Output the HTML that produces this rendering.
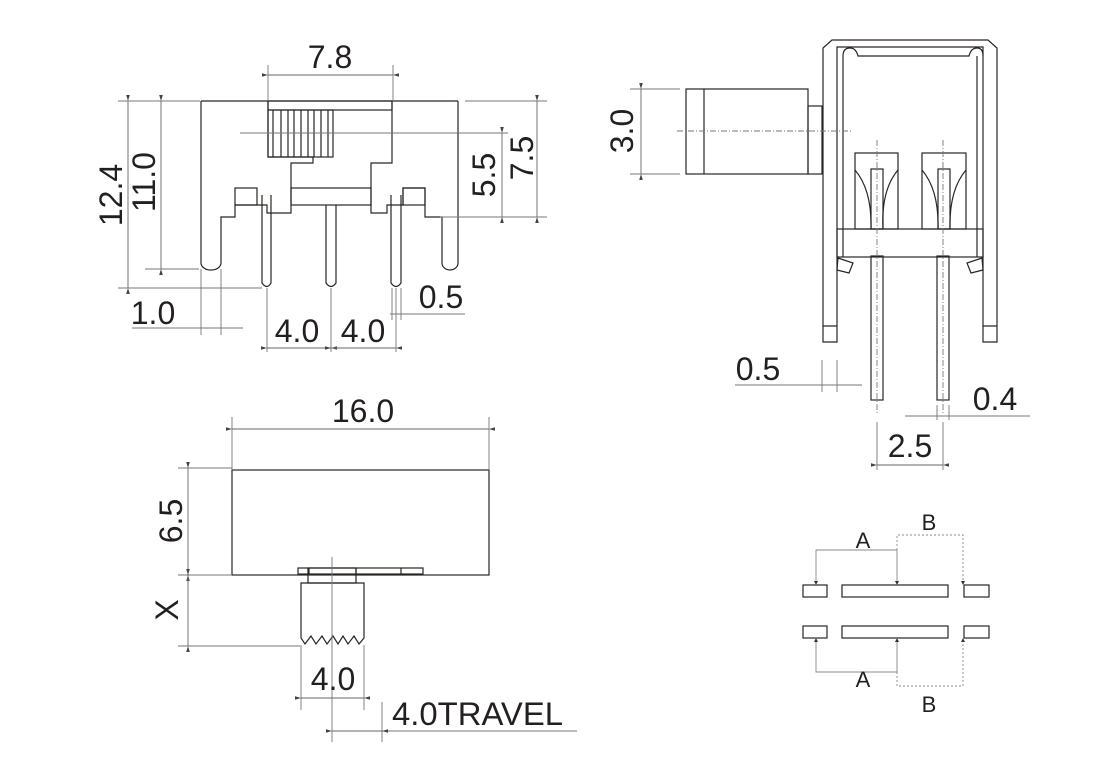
<!DOCTYPE html>
<html><head><meta charset="utf-8"><style>
html,body{margin:0;padding:0;background:#fff;}
svg{display:block;}
text{font-family:"Liberation Sans",sans-serif;fill:#231f20;}
.d{font-size:32px;}
.l{font-size:22px;}
.dim{stroke:#666;stroke-width:0.9;marker-start:url(#a);marker-end:url(#a);}
</style></head><body>
<svg width="1120" height="784" viewBox="0 0 1120 784" xmlns="http://www.w3.org/2000/svg">
<defs>
<marker id="a" viewBox="0 0 10 6" refX="0" refY="3" markerWidth="6" markerHeight="3.6" orient="auto-start-reverse" markerUnits="userSpaceOnUse">
<path d="M10,0 L0,3 L10,6 Z" fill="#444"/>
</marker>
</defs>
<g fill="none" stroke="#2a2424" stroke-width="1.2">
<!-- TOP LEFT VIEW -->
<path d="M201,101 H458"/>
<path d="M201,101 V263 A10,7 0 0 0 221,263 V217 H235 V205 H257 V205 H267 V213 H291 V163 H313 V157 H268 V101"/>
<rect x="235" y="188" width="22" height="17"/>
<path d="M392,101 V163 H371 V213 H387 V205 H403 V188 H425 V205 H425 V217 H442 V263 A8,7 0 0 0 458,263 V101"/>
<rect x="403" y="188" width="22" height="17"/>
<rect x="268" y="101" width="124" height="9"/>
<rect x="268" y="110" width="65" height="47"/>
<path d="M273,110V157M281,110V157M288,110V157M294,110V157M301,110V157M308,110V157M314,110V157M321,110V157M328,110V157"/>
<rect x="291" y="188" width="80" height="17"/>
<path d="M262,195 V283 Q267,290 271,283 V195 M326,205 V283 Q331,290 336,283 V205 M391,195 V283 Q396,290 401,283 V195"/>
</g>
<g fill="none" stroke="#777" stroke-width="0.9">
<path d="M240,133 H508"/>
<path d="M118,101 H200 M118,288 H262 M145,269 H199"/>
<path d="M268,65 V101 M393,65 V101"/>
<path d="M465,101 H547 M440,217 H547"/>
<path d="M201,269 V335 M221,269 V335 M132,328 H243"/>
<path d="M267,288 V352 M331,288 V352 M396,288 V352"/>
<path d="M392,288 V320 M401,288 V320 M390,314 H465"/>
</g>
<line class="dim" x1="128" y1="101" x2="128" y2="288"/>
<line class="dim" x1="161" y1="101" x2="161" y2="269"/>
<line class="dim" x1="268" y1="75" x2="393" y2="75"/>
<line class="dim" x1="537" y1="101" x2="537" y2="217"/>
<line class="dim" x1="502" y1="133" x2="502" y2="217"/>
<line class="dim" x1="267" y1="348" x2="331" y2="348"/>
<line class="dim" x1="331" y1="348" x2="396" y2="348"/>
<text class="d" x="330" y="68" text-anchor="middle">7.8</text>
<text class="d" transform="translate(122,195) rotate(-90)" text-anchor="middle">12.4</text>
<text class="d" transform="translate(155,182) rotate(-90)" text-anchor="middle">11.0</text>
<text class="d" transform="translate(495,175) rotate(-90)" text-anchor="middle">5.5</text>
<text class="d" transform="translate(533,158) rotate(-90)" text-anchor="middle">7.5</text>
<text class="d" x="153" y="324" text-anchor="middle">1.0</text>
<text class="d" x="297" y="342" text-anchor="middle">4.0</text>
<text class="d" x="363" y="342" text-anchor="middle">4.0</text>
<text class="d" x="441" y="308" text-anchor="middle">0.5</text>

<!-- TOP RIGHT VIEW -->
<g fill="none" stroke="#2a2424" stroke-width="1.2">
<path d="M823,342 V48 L832,40 H988 L997,48 V342 H983 V47 H837 V342 Z"/>
<path d="M823,326 H837 M983,326 H997"/>
<path d="M843,257 V56 Q843,48 850,48 Q856,48 858,56 H969 Q971,48 977,48 Q983,48 983,56"/>
<path d="M977,56 V257"/>
<rect x="837" y="229" width="146" height="28"/>
<rect x="686" y="89" width="122" height="85"/>
<path d="M704,89 V174"/>
<rect x="808" y="106" width="14" height="68"/>
<rect x="855" y="153" width="43" height="76"/>
<rect x="922" y="153" width="44" height="76"/>
<rect x="871" y="169" width="12" height="60"/>
<rect x="938" y="169" width="12" height="60"/>
<path d="M855,170 Q872,190 871,229 M898,170 Q881,190 883,229 M922,170 Q939,190 938,229 M966,170 Q949,190 950,229"/>
<rect x="871" y="256" width="12" height="144"/>
<rect x="937" y="256" width="12" height="144"/>
<path d="M838,258 L853,263 L849,273 L837,270 Z"/>
<path d="M982,258 L967,263 L971,273 L983,270 Z"/>
</g>
<g fill="none" stroke="#777" stroke-width="0.9">
<path d="M677,131 H853" stroke-dasharray="6,2,1,2"/>
<path d="M877,140 V415 M943,140 V415" stroke-dasharray="6,2,1,2"/>
<path d="M630,89 H680 M630,174 H680"/>
<path d="M822,360 V392 M837,360 V392 M735,385 H862"/>
<path d="M937,405 V420 M949,405 V420 M905,416 H1030"/>
<path d="M877,422 V470 M943,422 V470"/>
</g>
<line class="dim" x1="641" y1="89" x2="641" y2="174"/>
<line class="dim" x1="877" y1="465" x2="943" y2="465"/>
<text class="d" transform="translate(633,131) rotate(-90)" text-anchor="middle">3.0</text>
<text class="d" x="758" y="380" text-anchor="middle">0.5</text>
<text class="d" x="995" y="410" text-anchor="middle">0.4</text>
<text class="d" x="910" y="457" text-anchor="middle">2.5</text>

<!-- BOTTOM LEFT VIEW -->
<g fill="none" stroke="#2a2424" stroke-width="1.2">
<rect x="232" y="470" width="257" height="105"/>
<rect x="298" y="568" width="125" height="6"/>
<path d="M309,568V574 M356,568V574 M401,568V574"/>
<rect x="308" y="568" width="48" height="15"/>
<path d="M301,583 V638 L305,644 L311,636 L316,644 L322,636 L327,644 L333,636 L338,644 L343,636 L348,644 L354,636 L359,644 L364,638 V583 Z"/>
</g>
<g fill="none" stroke="#777" stroke-width="0.9">
<path d="M332,557 V742"/>
<path d="M232,417 V470 M489,417 V470"/>
<path d="M178,468 H232 M178,575 H232 M178,646 H300"/>
<path d="M301,645 V710 M364,645 V710"/>
<path d="M382,702 V742 M382,731 H577"/>
</g>
<line class="dim" x1="232" y1="429" x2="489" y2="429"/>
<line class="dim" x1="188" y1="468" x2="188" y2="575"/>
<line class="dim" x1="188" y1="575" x2="188" y2="646"/>
<line class="dim" x1="301" y1="698" x2="364" y2="698"/>
<line class="dim" x1="332" y1="731" x2="382" y2="731"/>
<text class="d" x="363" y="422" text-anchor="middle">16.0</text>
<text class="d" transform="translate(182,521) rotate(-90)" text-anchor="middle">6.5</text>
<text class="d" transform="translate(178,610) rotate(-90)" text-anchor="middle">X</text>
<text class="d" x="333" y="690" text-anchor="middle">4.0</text>
<text class="d" x="392" y="725" textLength="171" lengthAdjust="spacingAndGlyphs">4.0TRAVEL</text>

<!-- BOTTOM RIGHT -->
<g fill="none" stroke="#2a2424" stroke-width="1.2">
<rect x="803" y="585" width="24" height="12"/>
<rect x="842" y="585" width="106" height="12"/>
<rect x="964" y="585" width="25" height="12"/>
<rect x="803" y="626" width="24" height="12"/>
<rect x="842" y="626" width="106" height="12"/>
<rect x="964" y="626" width="25" height="12"/>
</g>
<g fill="none" stroke="#888" stroke-width="0.9">
<path d="M816,585 V550 H897 V585 M816,638 V672 H897 V638"/>
<path d="M897,550 V535 H963 V585 M897,672 V686 H963 V638" stroke-dasharray="2,2"/>
</g>
<g fill="#333">
<path d="M814,581 L818,581 L816,585 Z M895,581 L899,581 L897,585 Z M961,581 L965,581 L963,585 Z"/>
<path d="M814,642 L818,642 L816,638 Z M895,642 L899,642 L897,638 Z M961,642 L965,642 L963,638 Z"/>
</g>
<text class="l" x="863" y="548" text-anchor="middle">A</text>
<text class="l" x="929" y="530" text-anchor="middle">B</text>
<text class="l" x="863" y="687" text-anchor="middle">A</text>
<text class="l" x="929" y="712" text-anchor="middle">B</text>
</svg>
</body></html>
